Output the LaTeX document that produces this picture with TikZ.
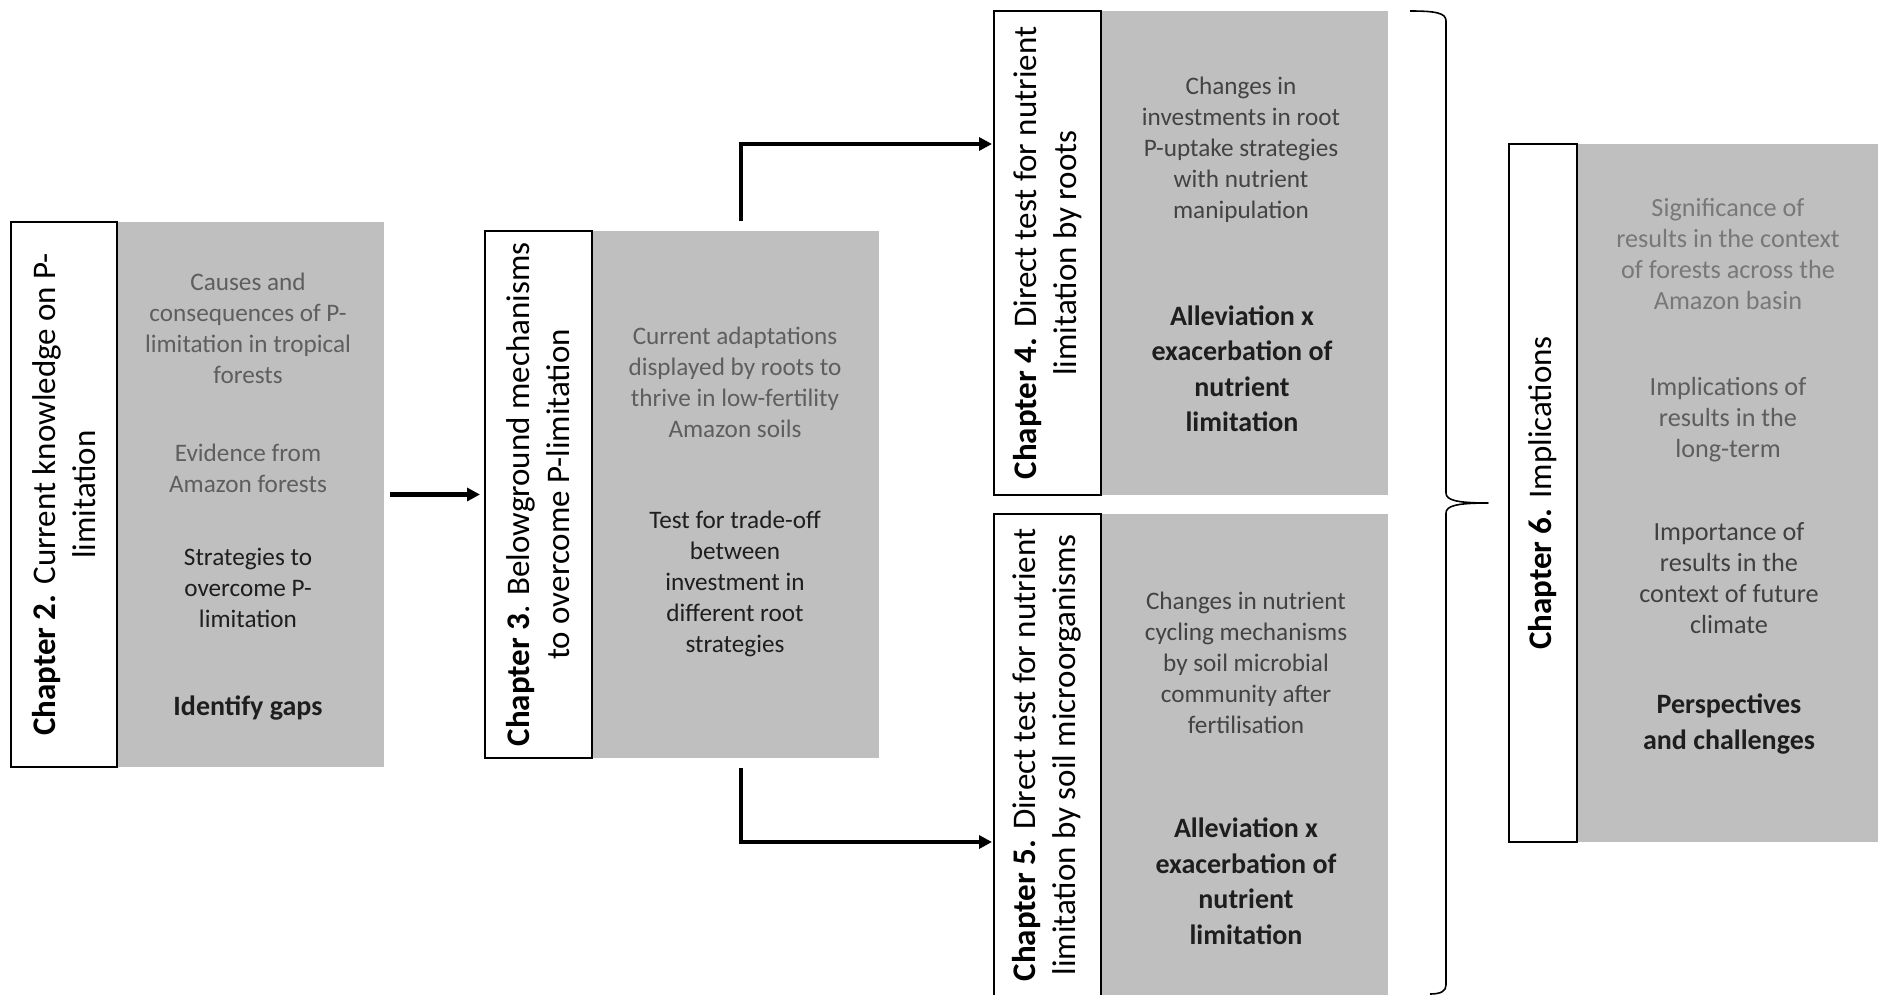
\documentclass[tikz,border=0pt]{standalone}
\usepackage{fontspec}
\setmainfont{Carlito}
\usetikzlibrary{arrows.meta}
\definecolor{boxgrey}{HTML}{BFBFBF}
\definecolor{tlight}{HTML}{787878}
\definecolor{tmid}{HTML}{5E5E5E}
\definecolor{tdark}{HTML}{434343}
\definecolor{tblack}{HTML}{1E1E1E}
\begin{document}
\begin{tikzpicture}[x=1pt,y=-1pt,
  greybox/.style={fill=boxgrey, inner sep=0pt, outer sep=0pt, anchor=north west},
  titlebox/.style={draw=black, line width=1.3pt, fill=white, inner sep=0pt, outer sep=0pt, anchor=north west},
  titletext/.style={rotate=90, align=center, inner sep=0pt, font=\fontsize{33}{40}\selectfont},
  bodytext/.style={align=center, inner sep=0pt, font=\fontsize{25.2}{31}\selectfont},
  widetext/.style={align=center, inner sep=0pt, font=\fontsize{26.2}{31}\selectfont},
  boldtext/.style={align=center, inner sep=0pt, font=\fontsize{28}{35.5}\selectfont\bfseries, text=tblack},
  conn/.style={line width=3.6pt, -{Triangle[length=13pt,width=13pt]}}
]
\useasboundingbox (0,0) rectangle (1878,995);

% ---------- Chapter 2
\node[greybox, minimum width=267pt, minimum height=545pt] (c2g) at (117,222) {};
\node[titlebox, minimum width=106pt, minimum height=545pt] (c2t) at (11,222) {};
\node[titletext] (c2tt) at (c2t.center) {\textbf{Chapter 2.} Current knowledge on P-\\limitation};
\node[bodytext, text=tmid] (c2a) at (248,328) {Causes and\\consequences of P-\\limitation in tropical\\forests};
\node[bodytext, text=tmid] (c2b) at (248,468) {Evidence from\\Amazon forests};
\node[bodytext, text=tblack] (c2c) at (248,588) {Strategies to\\overcome P-\\limitation};
\node[boldtext] (c2d) at (248,708) {Identify gaps};

% ---------- Chapter 3
\node[greybox, minimum width=287pt, minimum height=527pt] (c3g) at (592,231) {};
\node[titlebox, minimum width=107pt, minimum height=527pt] (c3t) at (485,231) {};
\node[titletext] (c3tt) at (c3t.center) {\textbf{Chapter 3}. Belowground mechanisms\\to overcome P-limitation};
\node[bodytext, text=tmid] (c3a) at (735,382) {Current adaptations\\displayed by roots to\\thrive in low-fertility\\Amazon soils};
\node[bodytext, text=tblack] (c3b) at (735,584) {Test for trade-off\\between\\investment in\\different root\\strategies};

% ---------- Chapter 4
\node[greybox, minimum width=287pt, minimum height=484pt] (c4g) at (1101,11) {};
\node[titlebox, minimum width=107pt, minimum height=484pt] (c4t) at (994,11) {};
\node[titletext] (c4tt) at (c4t.center) {\textbf{Chapter 4.} Direct test for nutrient\\limitation by roots};
\node[bodytext, text=tdark] (c4a) at (1241,150) {Changes in\\investments in root\\P-uptake strategies\\with nutrient\\manipulation};
\node[boldtext] (c4b) at (1242,369) {Alleviation x\\exacerbation of\\nutrient\\limitation};

% ---------- Chapter 5
\node[greybox, minimum width=287pt, minimum height=483pt] (c5g) at (1101,514) {};
\node[titlebox, minimum width=107pt, minimum height=483pt] (c5t) at (994,514) {};
\node[titletext] (c5tt) at (1047,755) {\textbf{Chapter 5.} Direct test for nutrient\\limitation by soil microorganisms};
\node[bodytext, text=tdark] (c5a) at (1246,663) {Changes in nutrient\\cycling mechanisms\\by soil microbial\\community after\\fertilisation};
\node[boldtext] (c5b) at (1246,881) {Alleviation x\\exacerbation of\\nutrient\\limitation};

% ---------- Chapter 6
\node[greybox, minimum width=301pt, minimum height=698pt] (c6g) at (1577,144) {};
\node[titlebox, minimum width=68pt, minimum height=698pt] (c6t) at (1509,144) {};
\node[titletext] (c6tt) at (c6t.center) {\textbf{Chapter 6.} Implications};
\node[widetext, text=tlight] (c6a) at (1728,254) {Significance of\\results in the context\\of forests across the\\Amazon basin};
\node[widetext, text=tmid] (c6b) at (1728,420) {Implications of\\results in the\\long-term};
\node[widetext, text=tblack!85] (c6c) at (1729,578) {Importance of\\results in the\\context of future\\climate};
\node[boldtext] (c6d) at (1729,724) {Perspectives\\and challenges};

% ---------- connectors
\draw[conn, line width=4.2pt, shorten <=6pt, shorten >=5pt] (c2g.east) -- (c3t.west);
\draw[conn, shorten >=2pt] ([xshift=5.5pt,yshift=10pt]c3g.north) |- ([yshift=-133pt]c4t.north west);
\draw[conn, shorten >=2pt] ([xshift=5.5pt,yshift=-10pt]c3g.south) |- ([yshift=-328pt]c5t.north west);

% ---------- brace
\draw[line width=1.6pt, line join=round]
  (1410,11) .. controls (1436,11) and (1446,13) .. (1446,21)
  -- (1446,493) .. controls (1446,500) and (1456,503) .. (1488,503)
  .. controls (1456,503) and (1446,506) .. (1446,513)
  -- (1446,985) .. controls (1446,991) and (1441,994) .. (1430,994);
\end{tikzpicture}
\end{document}
